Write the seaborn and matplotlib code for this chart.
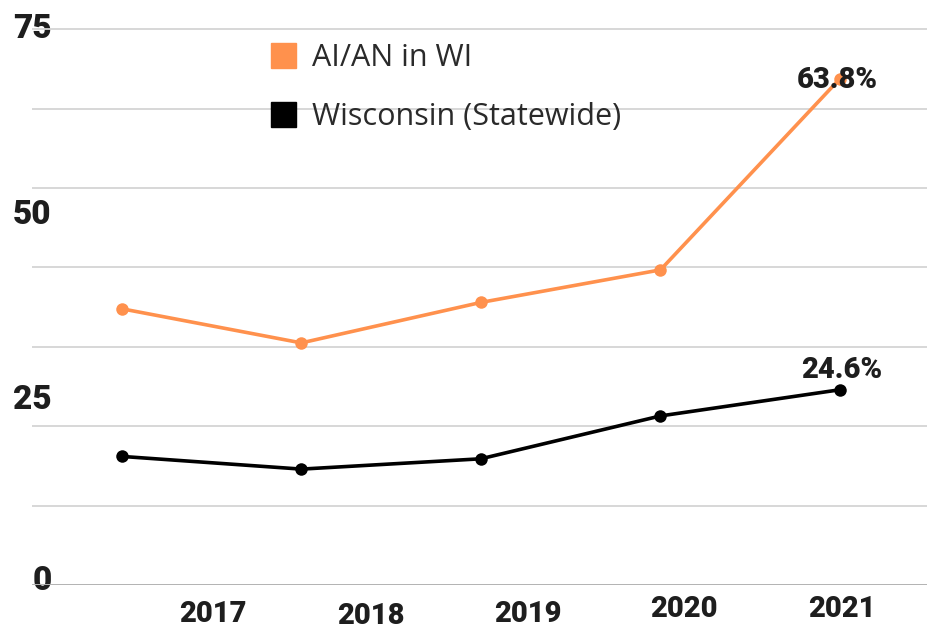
import numpy as np
import pandas as pd
import matplotlib
matplotlib.use("Agg")
import matplotlib.pyplot as plt
from matplotlib.lines import Line2D
from matplotlib.transforms import ScaledTranslation
import seaborn as sns

sns.set_theme(style="white")
plt.rcParams['font.family'] = ['Roboto', 'DejaVu Sans']

# data (percent)
years = [2017, 2018, 2019, 2020, 2021]
aian = [34.8, 30.5, 35.6, 39.7, 63.8]
wisconsin = [16.2, 14.6, 15.9, 21.3, 24.6]
series_names = ["AI/AN in WI", "Wisconsin (Statewide)"]
colors = ["#FF914D", "#000000"]

# tick labels as they appear in the original (odd spacing kept)
ytick_pos = [1.0, 23.7, 47.1, 70.5]
ytick_labels = ["0", "25", "50", "75"]
xtick_pos = [0.507, 1.387, 2.262, 3.131, 4.011]
xtick_nudge = [-0.04, -0.06, -0.04, 0.01, 0.01]  # inches

df = pd.DataFrame({
    "pos": list(range(len(years))) * 2,
    "value": aian + wisconsin,
    "group": [series_names[0]] * len(years) + [series_names[1]] * len(years),
})

fig = plt.figure(figsize=(9.28, 6.33), dpi=100)
ax = fig.add_axes([32 / 928, 48 / 633, 896 / 928, 585 / 633])

sns.lineplot(data=df, x="pos", y="value", hue="group", palette=colors,
             marker="o", markersize=9, markeredgewidth=0, linewidth=2.6,
             legend=False, ax=ax, zorder=3)

ax.set_xlim(-0.5, 4.49)
ax.set_ylim(0, 73.7)

# gridlines every 10
ax.set_yticks(np.arange(0, 71, 10), minor=True)
ax.grid(which="minor", axis="y", color="#d4d4d4", linewidth=1.3)
ax.grid(which="major", visible=False)
ax.axhline(0, color="#b0b0b0", linewidth=2, zorder=2)

ax.set_yticks(ytick_pos)
ax.set_yticklabels(ytick_labels, fontsize=24, fontweight="black", color="#1e1e1e")
ax.set_xticks(xtick_pos)
ax.set_xticklabels([str(y) for y in years], fontsize=21, fontweight="black", color="#1e1e1e")
ax.tick_params(axis="y", which="both", length=0, pad=-14)
ax.tick_params(axis="x", which="both", length=0, pad=8)
for lab, dy in zip(ax.get_xticklabels(), xtick_nudge):
    lab.set_transform(lab.get_transform() + ScaledTranslation(0, dy, fig.dpi_scale_trans))

ax.set_xlabel("")
ax.set_ylabel("")
for s in ax.spines.values():
    s.set_visible(False)

# end labels
ax.annotate(f"{aian[-1]}%", (4, aian[-1]), xytext=(-2, -1), textcoords="offset points",
            ha="center", va="center", fontsize=21, fontweight="black", color="#1e1e1e", zorder=5)
ax.annotate(f"{wisconsin[-1]}%", (4, wisconsin[-1]), xytext=(1, 14), textcoords="offset points",
            ha="center", va="center", fontsize=21, fontweight="black", color="#1e1e1e", zorder=5)

handles = [Line2D([], [], linestyle="none", marker="s", markersize=18, color=c) for c in colors]
leg = ax.legend(handles, series_names, loc="upper left", bbox_to_anchor=(243 / 928, 1 - 15 / 633),
                bbox_transform=fig.transFigure, frameon=False, handlelength=0.82,
                handletextpad=0.55, labelspacing=0.95,
                prop={"family": "Open Sans", "size": 22})
for t in leg.get_texts():
    t.set_color("#2a2a2a")

fig.savefig("out.png", dpi=100)
